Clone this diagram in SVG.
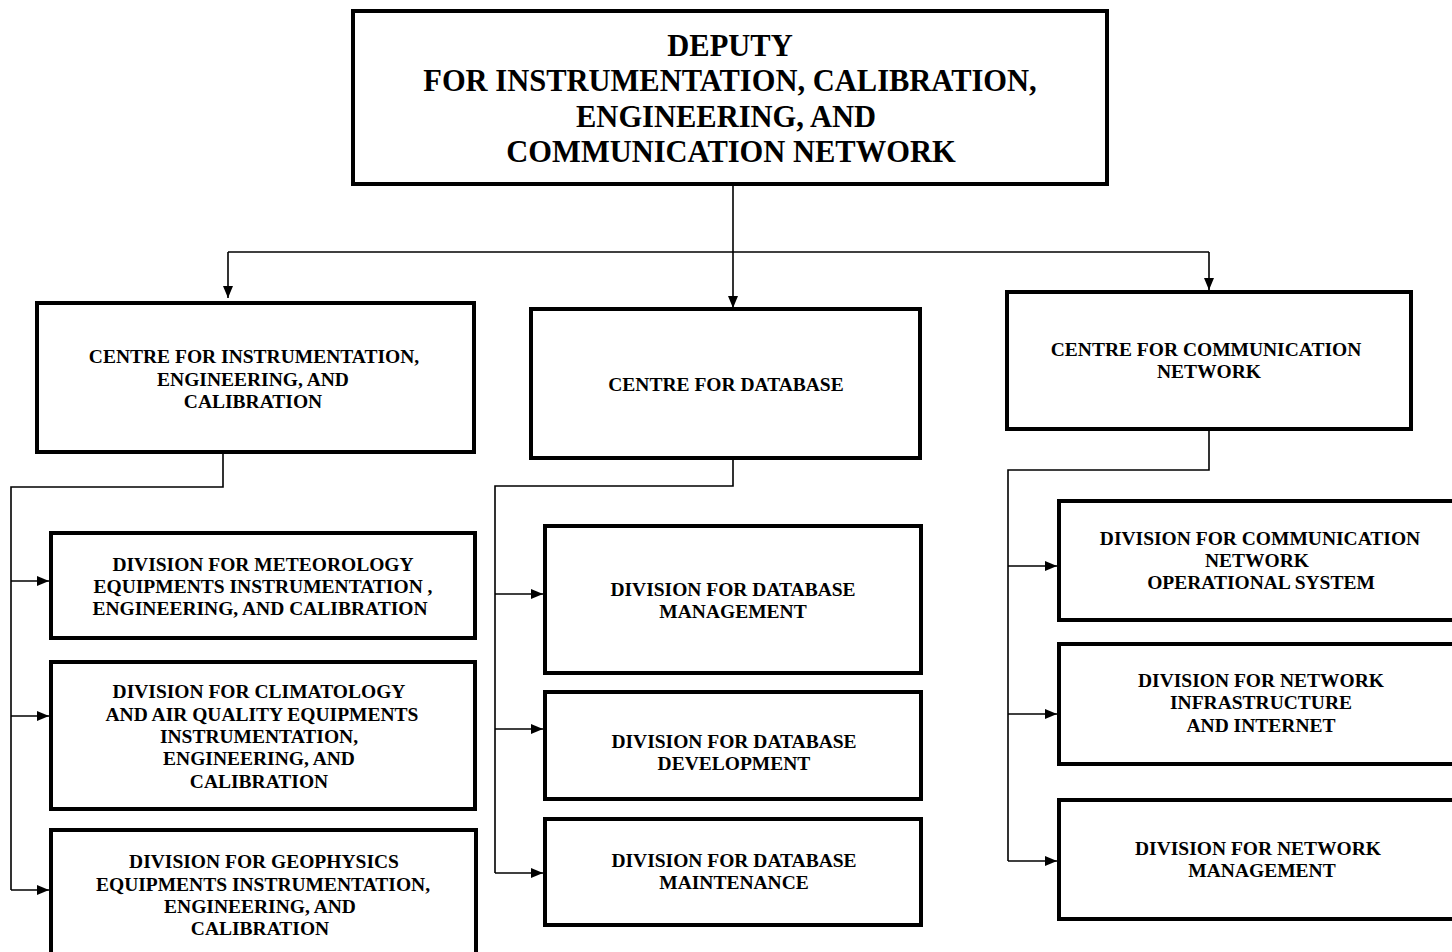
<svg xmlns="http://www.w3.org/2000/svg" width="1452" height="952" viewBox="0 0 1452 952">
<defs>
<marker id="ah" viewBox="0 0 12 10" refX="12" refY="5" markerWidth="12" markerHeight="10" markerUnits="userSpaceOnUse" orient="auto">
<path d="M0,0 L12,5 L0,10 Z" fill="#000"/>
</marker>
<style>
.box{fill:#fff;stroke:#000;stroke-width:4}
.t{font-family:"Liberation Serif","Times New Roman",serif;font-weight:bold;font-size:19.5px;text-anchor:middle;fill:#000}
.tt{font-family:"Liberation Serif","Times New Roman",serif;font-weight:bold;font-size:30.5px;text-anchor:middle;fill:#000}
.c{fill:none;stroke:#000;stroke-width:1.6}
</style>
</defs>
<rect width="1452" height="952" fill="#fff"/>
<g id="connectors">
<path class="c" d="M733,185 V308" marker-end="url(#ah)"/>
<path class="c" d="M228,252 H1209"/>
<path class="c" d="M228,252 V298" marker-end="url(#ah)"/>
<path class="c" d="M1209,252 V290" marker-end="url(#ah)"/>
<path class="c" d="M223,453 V487 H11 V890"/>
<path class="c" d="M11,581 H49" marker-end="url(#ah)"/>
<path class="c" d="M11,716 H49" marker-end="url(#ah)"/>
<path class="c" d="M11,890 H49" marker-end="url(#ah)"/>
<path class="c" d="M733,459 V486 H495 V873"/>
<path class="c" d="M495,594 H543" marker-end="url(#ah)"/>
<path class="c" d="M495,729 H543" marker-end="url(#ah)"/>
<path class="c" d="M495,873 H543" marker-end="url(#ah)"/>
<path class="c" d="M1209,430 V470 H1008 V861"/>
<path class="c" d="M1008,566 H1057" marker-end="url(#ah)"/>
<path class="c" d="M1008,714 H1057" marker-end="url(#ah)"/>
<path class="c" d="M1008,861 H1057" marker-end="url(#ah)"/>
</g>
<g id="deputy">
<rect class="box" x="353" y="11" width="754" height="173"/>
<text class="tt" x="730" y="56">DEPUTY</text>
<text class="tt" x="730" y="91">FOR INSTRUMENTATION, CALIBRATION,</text>
<text class="tt" x="726" y="127">ENGINEERING, AND</text>
<text class="tt" x="731" y="162">COMMUNICATION NETWORK</text>
</g>
<g id="centre-instrumentation">
<rect class="box" x="37" y="303" width="437" height="149"/>
<text class="t" x="254" y="363">CENTRE FOR INSTRUMENTATION,</text>
<text class="t" x="253" y="386">ENGINEERING, AND</text>
<text class="t" x="253" y="408">CALIBRATION</text>
</g>
<g id="centre-database">
<rect class="box" x="531" y="309" width="389" height="149"/>
<text class="t" x="726" y="391">CENTRE FOR DATABASE</text>
</g>
<g id="centre-communication">
<rect class="box" x="1007" y="292" width="404" height="137"/>
<text class="t" x="1206" y="356">CENTRE FOR COMMUNICATION</text>
<text class="t" x="1209" y="378">NETWORK</text>
</g>
<g id="div-meteorology">
<rect class="box" x="51" y="533" width="424" height="105"/>
<text class="t" x="263" y="571">DIVISION FOR METEOROLOGY</text>
<text class="t" x="263" y="593">EQUIPMENTS INSTRUMENTATION ,</text>
<text class="t" x="260" y="615">ENGINEERING, AND CALIBRATION</text>
</g>
<g id="div-climatology">
<rect class="box" x="51" y="662" width="424" height="147"/>
<text class="t" x="259" y="698">DIVISION FOR CLIMATOLOGY</text>
<text class="t" x="262" y="721">AND AIR QUALITY EQUIPMENTS</text>
<text class="t" x="259" y="743">INSTRUMENTATION,</text>
<text class="t" x="259" y="765">ENGINEERING, AND</text>
<text class="t" x="259" y="788">CALIBRATION</text>
</g>
<g id="div-geophysics">
<rect class="box" x="51" y="830" width="425" height="130"/>
<text class="t" x="264" y="868">DIVISION FOR GEOPHYSICS</text>
<text class="t" x="263" y="891">EQUIPMENTS INSTRUMENTATION,</text>
<text class="t" x="260" y="913">ENGINEERING, AND</text>
<text class="t" x="260" y="935">CALIBRATION</text>
</g>
<g id="div-db-management">
<rect class="box" x="545" y="526" width="376" height="147"/>
<text class="t" x="733" y="596">DIVISION FOR DATABASE</text>
<text class="t" x="733" y="618">MANAGEMENT</text>
</g>
<g id="div-db-development">
<rect class="box" x="545" y="692" width="376" height="107"/>
<text class="t" x="734" y="748">DIVISION FOR DATABASE</text>
<text class="t" x="734" y="770">DEVELOPMENT</text>
</g>
<g id="div-db-maintenance">
<rect class="box" x="545" y="819" width="376" height="106"/>
<text class="t" x="734" y="867">DIVISION FOR DATABASE</text>
<text class="t" x="734" y="889">MAINTENANCE</text>
</g>
<g id="div-comm-operational">
<rect class="box" x="1059" y="501" width="400" height="119"/>
<text class="t" x="1260" y="545">DIVISION FOR COMMUNICATION</text>
<text class="t" x="1257" y="567">NETWORK</text>
<text class="t" x="1261" y="589">OPERATIONAL SYSTEM</text>
</g>
<g id="div-network-infrastructure">
<rect class="box" x="1059" y="644" width="400" height="120"/>
<text class="t" x="1261" y="687">DIVISION FOR NETWORK</text>
<text class="t" x="1261" y="709">INFRASTRUCTURE</text>
<text class="t" x="1261" y="732">AND INTERNET</text>
</g>
<g id="div-network-management">
<rect class="box" x="1059" y="800" width="400" height="119"/>
<text class="t" x="1258" y="855">DIVISION FOR NETWORK</text>
<text class="t" x="1262" y="877">MANAGEMENT</text>
</g>
</svg>
